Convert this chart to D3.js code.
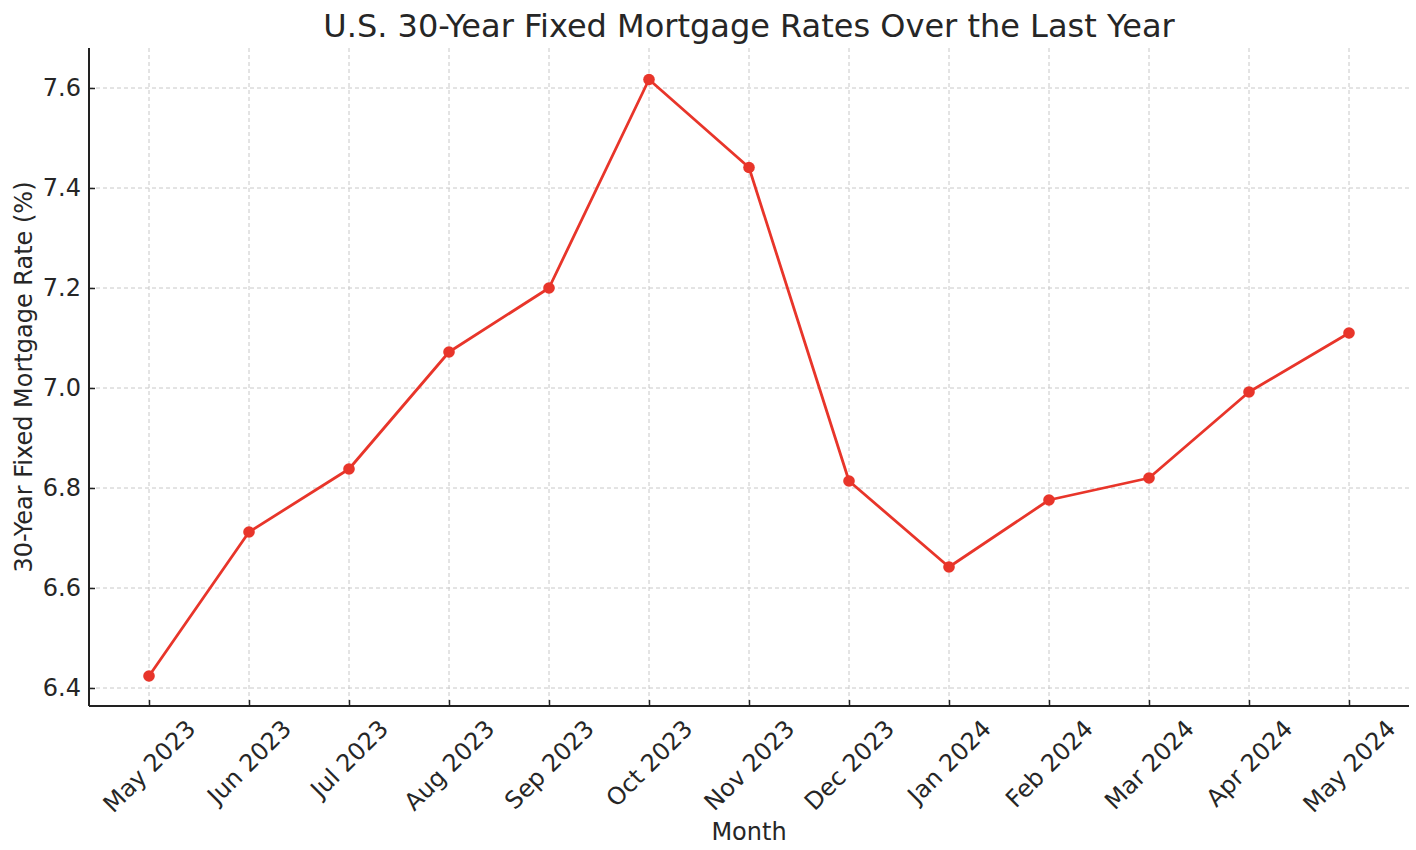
<!DOCTYPE html>
<html><head><meta charset="utf-8">
<script src="https://cdn.jsdelivr.net/npm/d3@7"></script>
<style>body{margin:0;background:#fff}svg{display:block}text{font-family:"DejaVu Sans",sans-serif;fill:#262626}</style>
</head><body><svg id="c" width="1416" height="850"></svg>
<script>
const months = ["May 2023","Jun 2023","Jul 2023","Aug 2023","Sep 2023","Oct 2023","Nov 2023","Dec 2023","Jan 2024","Feb 2024","Mar 2024","Apr 2024","May 2024"];
const rates = [6.424, 6.712, 6.838, 7.072, 7.200, 7.617, 7.441, 6.814, 6.642, 6.776, 6.820, 6.992, 7.110];
const yTicks = [6.4, 6.6, 6.8, 7.0, 7.2, 7.4, 7.6];
const title = "U.S. 30-Year Fixed Mortgage Rates Over the Last Year";
const xLabel = "Month";
const yLabel = "30-Year Fixed Mortgage Rate (%)";

const svg = d3.select("#c");
const L = 89, R = 1409, T = 48, B = 706;
const FS = 24;
const x = d3.scaleLinear().domain([-0.6, months.length - 1 + 0.6]).range([L, R]);
const y = d3.scaleLinear().domain([6.364, 7.68]).range([B, T]);

// grid
const g = svg.append("g");
g.selectAll(".gx").data(months).join("line")
  .attr("x1", (d,i)=>x(i)).attr("x2", (d,i)=>x(i)).attr("y1", T).attr("y2", B)
  .attr("stroke", "#c8c8c8").attr("stroke-width", 1).attr("stroke-dasharray", "4,3");
g.selectAll(".gy").data(yTicks).join("line")
  .attr("x1", L).attr("x2", R).attr("y1", d=>y(d)).attr("y2", d=>y(d))
  .attr("stroke", "#c8c8c8").attr("stroke-width", 1).attr("stroke-dasharray", "4,3");

// axes
const yAxis = d3.axisLeft(y).tickValues(yTicks).tickFormat(d3.format(".1f")).tickSizeInner(-6).tickSizeOuter(0).tickPadding(8);
const ya = svg.append("g").attr("transform", `translate(${L},0)`).call(yAxis);
ya.select(".domain").remove();
ya.selectAll(".tick line").attr("stroke", "#222").attr("stroke-width", 1.5);
ya.selectAll(".tick text").attr("font-size", FS).attr("fill", "#262626").style("font-family", "DejaVu Sans");

const xAxis = d3.axisBottom(x).tickValues(d3.range(months.length)).tickFormat(i=>months[i]).tickSizeInner(-6).tickSizeOuter(0);
const xa = svg.append("g").attr("transform", `translate(0,${B})`).call(xAxis);
xa.select(".domain").remove();
xa.selectAll(".tick line").attr("stroke", "#222").attr("stroke-width", 1.5);
xa.selectAll(".tick text").attr("font-size", FS).attr("fill", "#262626").style("font-family", "DejaVu Sans")
  .attr("text-anchor", "middle").attr("dominant-baseline", "central").attr("dy", null).attr("y", null)
  .each(function(){
    const w = this.getComputedTextLength();
    const h = FS * 0.9;
    const H = (w + h) / Math.SQRT2;
    d3.select(this).attr("transform", `translate(0, ${11 + H/2}) rotate(-45)`);
  });

// spines
svg.append("line").attr("x1", L).attr("x2", L).attr("y1", T).attr("y2", B).attr("stroke", "#222").attr("stroke-width", 2);
svg.append("line").attr("x1", L).attr("x2", R).attr("y1", B).attr("y2", B).attr("stroke", "#222").attr("stroke-width", 2);

// line
const color = "#e8352a";
svg.append("path").datum(rates)
  .attr("d", d3.line().x((d,i)=>x(i)).y(d=>y(d)))
  .attr("fill", "none").attr("stroke", color).attr("stroke-width", 2.8).attr("stroke-linejoin", "round");
svg.selectAll(".pt").data(rates).join("circle")
  .attr("cx", (d,i)=>x(i)).attr("cy", d=>y(d)).attr("r", 5.8).attr("fill", color);

// labels
svg.append("text").attr("x", (L+R)/2).attr("y", 37).attr("text-anchor", "middle").attr("font-size", 32).attr("fill", "#333").text(title);
svg.append("text").attr("x", (L+R)/2).attr("y", 840).attr("text-anchor", "middle").attr("font-size", FS).text(xLabel);
svg.append("text").attr("transform", `translate(32, ${(T+B)/2}) rotate(-90)`).attr("text-anchor", "middle").attr("font-size", FS).text(yLabel);
</script></body></html>
